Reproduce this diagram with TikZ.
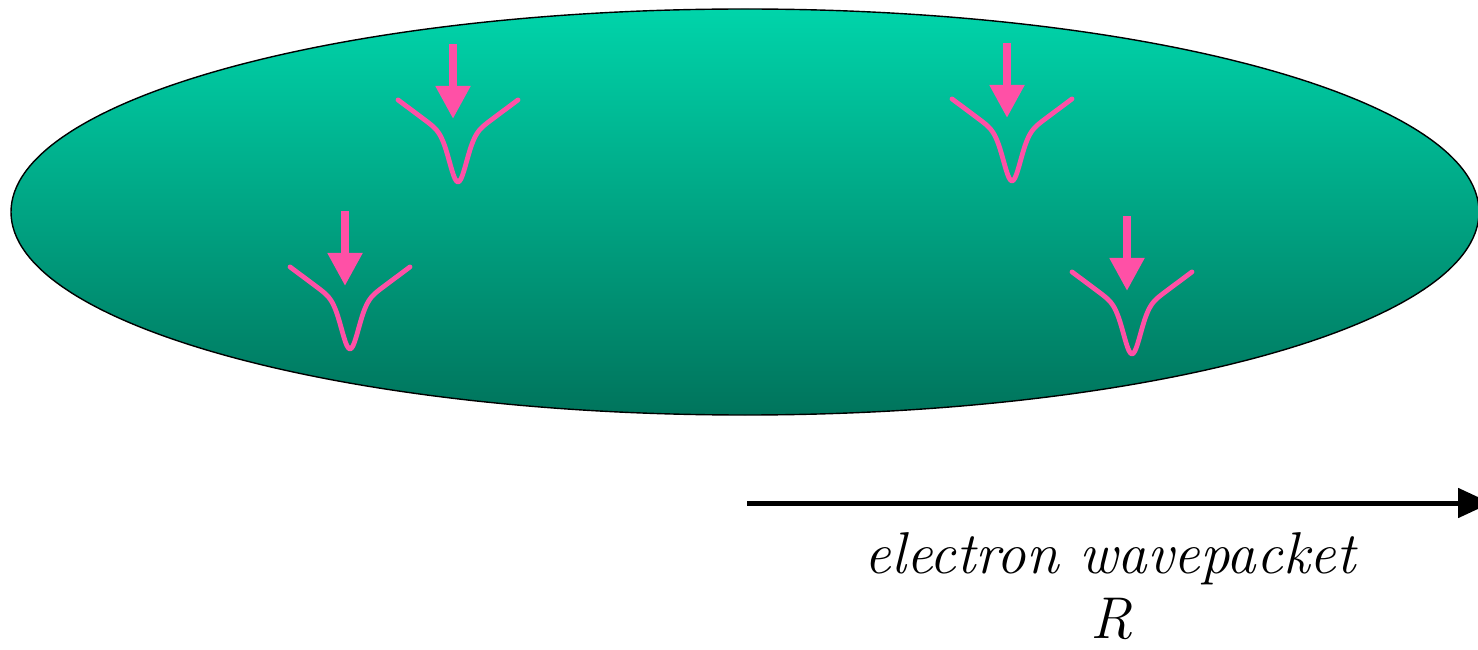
\documentclass[tikz,border=0pt]{standalone}
\usepackage{fontspec}
\usepackage{tikz}
\usetikzlibrary{arrows.meta, positioning}

\definecolor{cloudtop}{RGB}{0,212,170}
\definecolor{cloudbot}{RGB}{0,116,92}
\definecolor{wellpink}{RGB}{255,80,166}

\tikzset{
  pics/well/.style={code={
    % potential well with the incoming electron
    \draw[wellline] plot[domain=-60:60, samples=81, smooth]
      (\x, {0.75*sqrt(\x*\x+16)+40*(1-exp(-\x*\x/140))});
    \draw[dropline] (-5,141) -- (-5,66);
  }}
}

\begin{document}
\begin{tikzpicture}[
    x=0.5pt, y=0.5pt,
    cloud/.style={draw=black, line width=0.7pt, top color=cloudtop, bottom color=cloudbot},
    wellline/.style={draw=wellpink, line width=2.4pt, line cap=round, line join=round},
    dropline/.style={draw=wellpink, line width=4pt, -{Triangle[length=16.5pt, width=16.5pt]}},
    axis/.style={line width=2.5pt, -{Triangle[length=16.5pt, width=14.5pt]}},
    caption/.style={font=\fontsize{29.5}{35}\selectfont\itshape, inner sep=0pt, anchor=base}
]

\clip (0,0) rectangle (1478,649);

\draw[cloud] (745,437) ellipse [x radius=734, y radius=203];

\pic at (458,464) {well};
\pic at (350,297) {well};
\pic at (1012,465) {well};
\pic at (1132,292) {well};

\coordinate (rstart) at (747,146);
\coordinate (rend) at (1491,146);
\draw[axis] (rstart) -- (rend);

\node[caption] (wavepacket) at (1110,76) {electron wavepacket};
\node[caption] (coordR) at (1112,11) {R};

\end{tikzpicture}
\end{document}
